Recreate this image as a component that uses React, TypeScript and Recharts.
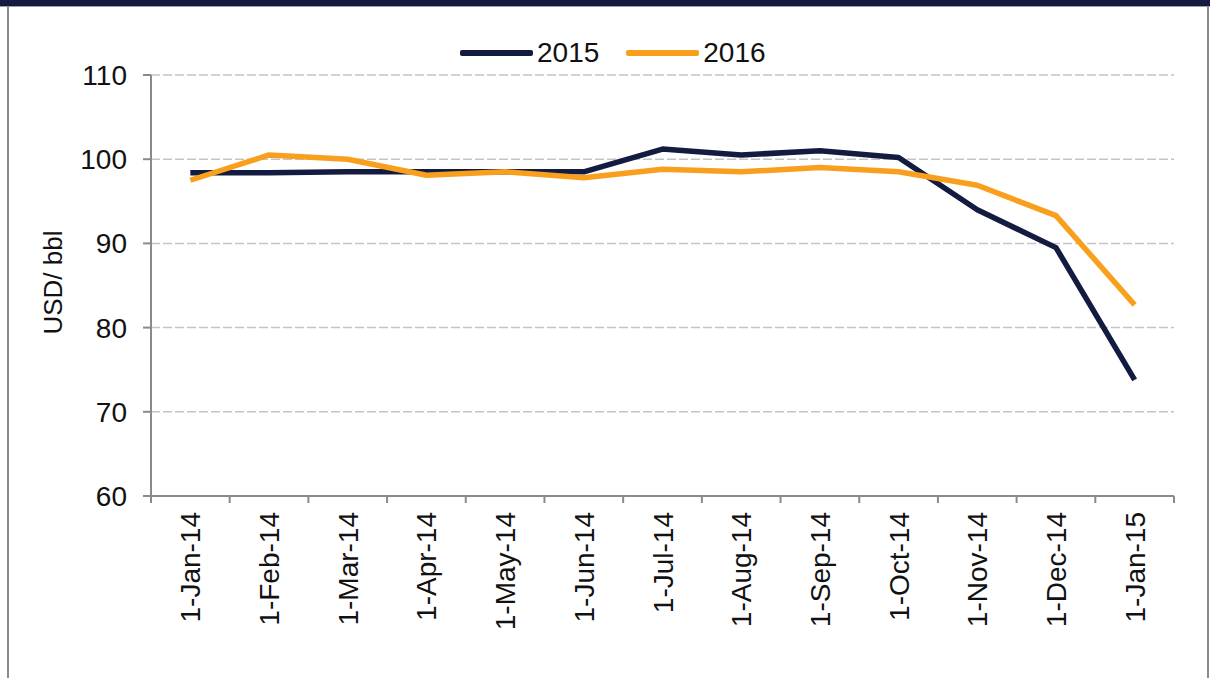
import { LineChart, Line, XAxis, YAxis, CartesianGrid, Legend } from 'recharts';

const months = [
  '1-Jan-14', '1-Feb-14', '1-Mar-14', '1-Apr-14', '1-May-14', '1-Jun-14', '1-Jul-14',
  '1-Aug-14', '1-Sep-14', '1-Oct-14', '1-Nov-14', '1-Dec-14', '1-Jan-15',
];
const price2015 = [98.4, 98.4, 98.5, 98.5, 98.5, 98.5, 101.2, 100.5, 101.0, 100.2, 94.0, 89.5, 73.8];
const price2016 = [97.5, 100.5, 100.0, 98.1, 98.5, 97.8, 98.8, 98.5, 99.0, 98.5, 96.9, 93.3, 82.7];
const yTicks = [60, 70, 80, 90, 100, 110];
const seriesNames = ['2015', '2016'];

const NAVY = '#131c40';
const ORANGE = '#f8a01e';
const AXIS = '#8a8a8a';
const FONT = 'Arial, "Liberation Sans", sans-serif';

const W = 1210;
const H = 678;
const margin = { top: 75, right: 36, bottom: 0, left: 0 };
const xAxisHeight = 182;
const yAxisWidth = 151;
const halfBand = (W - margin.right - yAxisWidth) / (months.length * 2);

const data = months.map((m, i) => ({
  month: m,
  y2015: price2015[i],
  y2016: price2016[i],
}));

function MonthTick(props: any) {
  const { x, y, payload, index } = props;
  const last = index === months.length - 1;
  return (
    <g>
      <line x1={x - halfBand} x2={x - halfBand} y1={y} y2={y + 7} stroke={AXIS} strokeWidth={2} />
      {last && <line x1={x + halfBand} x2={x + halfBand} y1={y} y2={y + 7} stroke={AXIS} strokeWidth={2} />}
      <text
        transform={`translate(${x},${y}) rotate(-90)`}
        x={-16}
        y={10}
        textAnchor="end"
        fontSize={28}
        fontFamily={FONT}
        fill="#111"
      >
        {payload.value}
      </text>
    </g>
  );
}

function LegendRow() {
  const colors = [NAVY, ORANGE];
  return (
    <div style={{ display: 'flex', alignItems: 'center', marginLeft: 460, fontFamily: FONT, fontSize: 28, color: '#111' }}>
      {seriesNames.map((name, i) => (
        <div key={name} style={{ display: 'flex', alignItems: 'center', marginRight: 27 }}>
          <div style={{ width: 73, height: 6, background: colors[i], borderRadius: 2, marginRight: 4 }} />
          <span style={{ lineHeight: '30px' }}>{name}</span>
        </div>
      ))}
    </div>
  );
}

function YLabel(props: any) {
  const { viewBox } = props;
  const cy = viewBox.y + viewBox.height / 2 - 3;
  return (
    <text
      transform={`rotate(-90, 62, ${cy})`}
      x={62}
      y={cy}
      textAnchor="middle"
      fontSize={26}
      fontFamily={FONT}
      fill="#111"
    >
      USD/ bbl
    </text>
  );
}

export default function App() {
  return (
    <div style={{ position: 'absolute', left: 0, top: 0, width: W, height: H, background: '#fff', overflow: 'hidden' }}>
      <div style={{ position: 'absolute', left: 0, top: 0, width: W, height: 6, background: '#14193f' }} />
      <div style={{ position: 'absolute', left: 0, top: 6, width: W, height: 1, background: '#9a9ca8' }} />
      <div style={{ position: 'absolute', left: 7, top: 6, width: 2, height: H, background: '#8c8c8c' }} />
      <div style={{ position: 'absolute', left: 1207, top: 6, width: 2, height: H, background: '#8c8c8c' }} />
      <div style={{ position: 'absolute', left: 0, top: 0 }}>
        <LineChart width={W} height={H} data={data} margin={margin}>
          <CartesianGrid vertical={false} stroke="#c4c4c4" strokeWidth={1.5} strokeDasharray="9 3" />
          <XAxis
            dataKey="month"
            scale="band"
            interval={0}
            tickSize={0}
            tickMargin={0}
            tickLine={false}
            axisLine={{ stroke: AXIS, strokeWidth: 2 }}
            tick={<MonthTick />}
            height={xAxisHeight}
          />
          <YAxis
            width={yAxisWidth}
            domain={[60, 110]}
            ticks={yTicks}
            interval={0}
            tickSize={8}
            tickMargin={16}
            axisLine={{ stroke: AXIS, strokeWidth: 2 }}
            tickLine={{ stroke: AXIS, strokeWidth: 2 }}
            tick={{ fontSize: 28, fontFamily: FONT, fill: '#111' }}
            label={<YLabel />}
          />
          <Legend
            layout="horizontal"
            verticalAlign="middle"
            wrapperStyle={{ top: 38, left: 0, width: W }}
            content={<LegendRow />}
          />
          <Line
            type="linear"
            dataKey="y2015"
            name={seriesNames[0]}
            stroke={NAVY}
            strokeWidth={5.5}
            dot={false}
            strokeLinejoin="round"
            isAnimationActive={false}
          />
          <Line
            type="linear"
            dataKey="y2016"
            name={seriesNames[1]}
            stroke={ORANGE}
            strokeWidth={5.5}
            dot={false}
            strokeLinejoin="round"
            isAnimationActive={false}
          />
        </LineChart>
      </div>
    </div>
  );
}
